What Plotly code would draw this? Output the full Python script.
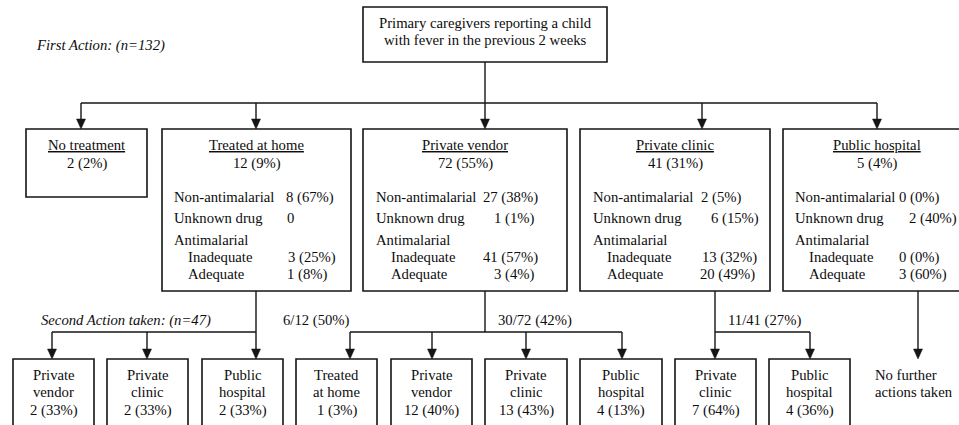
import plotly.graph_objects as go

# ---------------- data ----------------
top_text = ["Primary caregivers reporting a child", "with fever in the previous 2 weeks"]
first_action_label = "First Action: (n=132)"
second_action_label = "Second Action taken: (n=47)"

first_actions = ["No treatment", "Treated at home", "Private vendor", "Private clinic", "Public hospital"]
first_n = [2, 12, 72, 41, 5]
first_pct = [2, 9, 55, 31, 4]

drug_rows = ["Non-antimalarial", "Unknown drug", "Antimalarial", "Inadequate", "Adequate"]
# boxes with drug details: Treated at home, Private vendor, Private clinic, Public hospital
non_antimalarial_n = [8, 27, 2, 0]
non_antimalarial_pct = [67, 38, 5, 0]
unknown_n = [0, 1, 6, 2]
unknown_pct = [None, 1, 15, 40]
inadequate_n = [3, 41, 13, 0]
inadequate_pct = [25, 57, 32, 0]
adequate_n = [1, 3, 20, 3]
adequate_pct = [8, 4, 49, 60]

second_sources = ["Treated at home", "Private vendor", "Private clinic"]
second_taken = [6, 30, 11]
second_of = [12, 72, 41]
second_pct = [50, 42, 27]
second_actions = [["Private vendor", "Private clinic", "Public hospital"],
                  ["Treated at home", "Private vendor", "Private clinic", "Public hospital"],
                  ["Private clinic", "Public hospital"]]
second_n = [[2, 2, 2], [1, 12, 13, 4], [7, 4]]
second_pcts = [[33, 33, 33], [3, 40, 43, 13], [64, 36]]
no_further_text = ["No further", "actions taken"]

# ---------------- layout geometry (pixels) ----------------
W, H = 959, 425
FONT = dict(family="Liberation Serif, Times New Roman, serif", size=14.7, color="#0d0d0d")
LC = "#151515"

top_box = (363, 7, 607, 62)
first_boxes_x = [(26, 147), (162, 351), (363, 567), (580, 770), (783, 971)]
first_bottom = [197, 291, 291, 291, 291]
first_top = 129
first_arrow_x = [81, 256, 485, 702, 877]
first_bus_y = 103
title_y, count_y = 145, 163
row_y = [197, 218, 240, 257, 274]
label_x = [(173, 187), (375, 390), (592, 606), (794, 808)]
value_x = [[285, 286, None, 287, 286],
           [482, 493, None, 482, 493],
           [700, 710, None, 701, 699],
           [898, 908, None, 898, 898]]

second_stem_x = [256, 485, 715]
second_bus_y = 332
second_arrow_x = [[52, 147, 256], [350, 432, 526, 622], [715, 810]]
second_boxes_x = [[(13, 94), (107, 188), (202, 283)],
                  [(296, 377), (391, 472), (485, 567), (580, 662)],
                  [(675, 756), (769, 850)]]
second_top = 359
second_bottom = 450
second_text_y = [375, 392, 410]
second_count_x = [282, 497, 727]
second_label_y = 320
no_further_x = 918
no_further_text_x = 874

shapes = []
annots = []


def rect(x0, y0, x1, y1):
    shapes.append(dict(type="rect", x0=x0, y0=y0, x1=x1, y1=y1, xref="x", yref="y",
                       line=dict(color=LC, width=1.6), fillcolor="rgba(0,0,0,0)"))


def line(x0, y0, x1, y1):
    shapes.append(dict(type="line", x0=x0, y0=y0, x1=x1, y1=y1, xref="x", yref="y",
                       line=dict(color=LC, width=1.4)))


def arrow(x, y_from, y_tip):
    line(x, y_from, x, y_tip - 8)
    shapes.append(dict(type="path", xref="x", yref="y",
                       path=f"M {x-4.5},{y_tip-10} L {x+4.5},{y_tip-10} L {x},{y_tip} Z",
                       fillcolor=LC, line=dict(color=LC, width=0.5)))


def text(x, y, s, anchor="center"):
    annots.append(dict(x=x, y=y, xref="x", yref="y", text=s, showarrow=False,
                       xanchor=anchor, yanchor="middle", font=FONT, borderpad=0))


# top box
rect(*top_box)
cx = (top_box[0] + top_box[2]) / 2
text(cx, 23, top_text[0])
text(cx, 40, top_text[1])
text(35, 45, f"<i>{first_action_label}</i>", "left")

# first-level connectors
line(first_arrow_x[2], top_box[3], first_arrow_x[2], first_bus_y)
line(first_arrow_x[0], first_bus_y, first_arrow_x[-1], first_bus_y)
for ax in first_arrow_x:
    arrow(ax, first_bus_y, first_top)

# first-level boxes
details = [None, 0, 1, 2, 3]
for i, name in enumerate(first_actions):
    x0, x1 = first_boxes_x[i]
    rect(x0, first_top, x1, first_bottom[i])
    c = (x0 + x1) / 2
    text(c, title_y, f"<u>{name}</u>")
    text(c, count_y, f"{first_n[i]} ({first_pct[i]}%)")
    d = details[i]
    if d is None:
        continue
    vals = [(non_antimalarial_n[d], non_antimalarial_pct[d]),
            (unknown_n[d], unknown_pct[d]),
            None,
            (inadequate_n[d], inadequate_pct[d]),
            (adequate_n[d], adequate_pct[d])]
    for r, lab in enumerate(drug_rows):
        lx = label_x[d][1] if r >= 3 else label_x[d][0]
        text(lx, row_y[r], lab, "left")
        if vals[r] is not None:
            n, p = vals[r]
            s = f"{n}" if p is None else f"{n} ({p}%)"
            text(value_x[d][r], row_y[r], s, "left")

# second level
text(40, second_label_y, f"<i>{second_action_label}</i>", "left")
for k in range(len(second_sources)):
    sx = second_stem_x[k]
    xs = second_arrow_x[k]
    line(sx, 291, sx, second_bus_y)
    line(min(xs), second_bus_y, max(xs), second_bus_y)
    for ax in xs:
        arrow(ax, second_bus_y, second_top)
    text(second_count_x[k], second_label_y,
         f"{second_taken[k]}/{second_of[k]} ({second_pct[k]}%)", "left")
    for j, name in enumerate(second_actions[k]):
        x0, x1 = second_boxes_x[k][j]
        rect(x0, second_top, x1, second_bottom)
        c = (x0 + x1) / 2
        a, b = name.split(" ", 1)
        text(c, second_text_y[0], a)
        text(c, second_text_y[1], b)
        text(c, second_text_y[2], f"{second_n[k][j]} ({second_pcts[k][j]}%)")

# public hospital -> no further actions
arrow(no_further_x, 291, second_top)
text(no_further_text_x, second_text_y[0], no_further_text[0], "left")
text(no_further_text_x, second_text_y[1], no_further_text[1], "left")

fig = go.Figure()
fig.update_layout(
    width=W, height=H, margin=dict(l=0, r=0, t=0, b=0),
    paper_bgcolor="white", plot_bgcolor="white",
    xaxis=dict(range=[0, W], visible=False, fixedrange=True),
    yaxis=dict(range=[H, 0], visible=False, fixedrange=True),
    shapes=shapes, annotations=annots, showlegend=False,
)
fig.write_html("out.html", config={"displayModeBar": False, "staticPlot": True},
               post_script="document.body.style.margin='0';document.body.style.overflow='hidden';")
